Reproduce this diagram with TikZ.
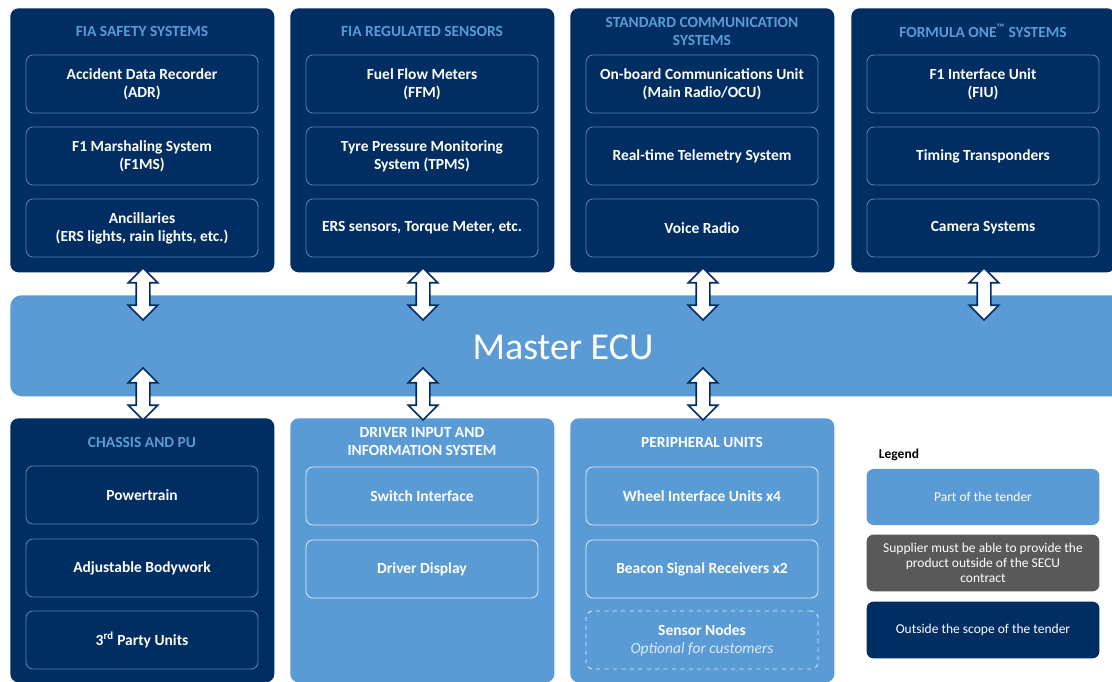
\documentclass[tikz,border=0pt]{standalone}
\usepackage{fontspec}
\setmainfont{Carlito}
\usetikzlibrary{shapes.arrows,positioning}

\definecolor{navy}{HTML}{002D62}
\definecolor{skyblue}{HTML}{5B9BD5}
\definecolor{innerline}{HTML}{4F86C6}
\definecolor{paleline}{HTML}{DCE9F6}
\definecolor{legendgrey}{HTML}{595959}

\tikzset{
  darkpanel/.style={fill=navy, rounded corners=6pt, anchor=north west,
    minimum width=6.6cm, minimum height=6.6cm, inner sep=0pt},
  lightpanel/.style={darkpanel, fill=skyblue},
  darktitle/.style={text=skyblue, align=center, font=\bfseries\fontsize{11}{12.8}\selectfont},
  lighttitle/.style={darktitle, text=white},
  darkitem/.style={draw=innerline, line width=0.6pt, rounded corners=5pt,
    minimum width=5.8cm, minimum height=1.45cm, align=center, text=white,
    font=\bfseries\fontsize{11}{12.8}\selectfont},
  lightitem/.style={darkitem, draw=paleline},
  biarrow/.style={double arrow, draw=navy, fill=white, line width=1.1pt,
    rotate=90, inner xsep=0pt, inner ysep=0.15cm, minimum height=1.3cm,
    double arrow head extend=0.2cm},
  legendbox/.style={rounded corners=5pt, minimum width=5.82cm, minimum height=1.4cm,
    align=center, text=white, font=\fontsize{9.6}{10.6}\selectfont}
}

\begin{document}
\begin{tikzpicture}[x=0.025cm, y=-0.025cm]
\useasboundingbox (0,0) rectangle (1112,682);

% top row of system groups
\node[darkpanel] (safety) at (10,8) {};
\node[darkpanel] (sensors) at (290,8) {};
\node[darkpanel] (comms) at (570,8) {};
\node[darkpanel] (fone) at (851,8) {};

\node[darktitle] (safetyT) at (142,31) {FIA SAFETY SYSTEMS};
\node[darktitle] (sensorsT) at (422,31) {FIA REGULATED SENSORS};
\node[darktitle] (commsT) at (702,31) {STANDARD COMMUNICATION\\SYSTEMS};
\node[darktitle] (foneT) at (983,31) {FORMULA ONE\textsuperscript{\texttrademark} SYSTEMS};

\node[darkitem] (adr) at (142,84) {Accident Data Recorder\\(ADR)};
\node[darkitem] (f1ms) at (142,156) {F1 Marshaling System\\(F1MS)};
\node[darkitem] (ancil) at (142,228) {Ancillaries\\(ERS lights, rain lights, etc.)};

\node[darkitem] (ffm) at (422,84) {Fuel Flow Meters\\(FFM)};
\node[darkitem] (tpms) at (422,156) {Tyre Pressure Monitoring\\System (TPMS)};
\node[darkitem] (ers) at (422,228) {ERS sensors, Torque Meter, etc.};

\node[darkitem] (ocu) at (702,84) {On-board Communications Unit\\(Main Radio/OCU)};
\node[darkitem] (telem) at (702,156) {Real-time Telemetry System};
\node[darkitem] (voice) at (702,228) {Voice Radio};

\node[darkitem] (fiu) at (983,84) {F1 Interface Unit\\(FIU)};
\node[darkitem] (timing) at (983,156) {Timing Transponders};
\node[darkitem] (camera) at (983,228) {Camera Systems};

% master ECU bar
\node[fill=skyblue, rounded corners=8pt, anchor=north west, minimum width=27.9cm,
  minimum height=2.525cm, inner sep=0pt] (ecu) at (10,295) {};
\node[text=white, font=\fontsize{27}{32}\selectfont] (ecuT) at (563,347) {Master ECU};

% bottom row
\node[darkpanel] (chassis) at (10,418) {};
\node[lightpanel] (driver) at (290,418) {};
\node[lightpanel] (periph) at (570,418) {};

\node[darktitle] (chassisT) at (142,442) {CHASSIS AND PU};
\node[lighttitle] (driverT) at (422,442) {DRIVER INPUT AND\\INFORMATION SYSTEM};
\node[lighttitle] (periphT) at (702,442) {PERIPHERAL UNITS};

\node[darkitem] (power) at (142,495) {Powertrain};
\node[darkitem] (body) at (142,568) {Adjustable Bodywork};
\node[darkitem] (third) at (142,640) {3\textsuperscript{rd} Party Units};

\node[lightitem] (switch) at (422,496) {Switch Interface};
\node[lightitem] (display) at (422,569) {Driver Display};

\node[lightitem] (wiu) at (702,496) {Wheel Interface Units x4};
\node[lightitem] (beacon) at (702,569) {Beacon Signal Receivers x2};
\node[lightitem, dashed] (snodes) at (702,640) {Sensor Nodes\\{\mdseries\itshape\color{paleline}Optional for customers}};

% links to the master ECU
\node[biarrow] (a1) at (143,294) {};
\node[biarrow] (a2) at (423,294) {};
\node[biarrow] (a3) at (703,294) {};
\node[biarrow] (a4) at (984,294) {};
\node[biarrow] (a5) at (143,394) {};
\node[biarrow] (a6) at (423,394) {};
\node[biarrow] (a7) at (703,394) {};

% legend
\node[anchor=west, font=\bfseries\fontsize{9.6}{11}\selectfont] (legendT) at (874,455) {Legend};
\node[legendbox, fill=skyblue] (tender) at (983,497) {Part of the tender};
\node[legendbox, fill=legendgrey, minimum height=1.42cm] (supplier) at (983,563) {Supplier must be able to provide the\\product outside of the SECU\\contract};
\node[legendbox, fill=navy, minimum height=1.42cm] (outside) at (983,630) {Outside the scope of the tender};

\end{tikzpicture}
\end{document}
